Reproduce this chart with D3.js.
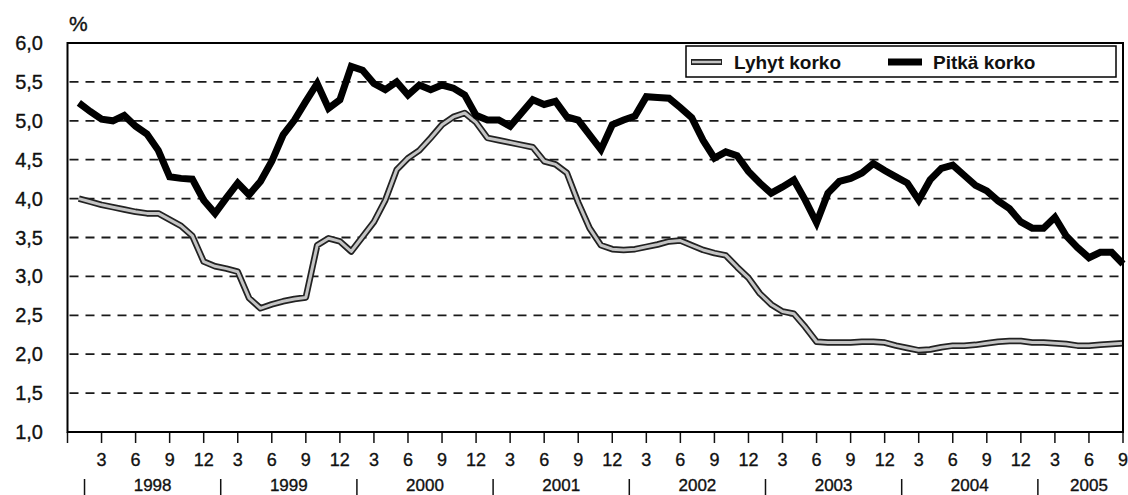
<!DOCTYPE html>
<html>
<head>
<meta charset="utf-8">
<script src="https://cdnjs.cloudflare.com/ajax/libs/d3/7.8.5/d3.min.js"></script>
<style>
  body { margin: 0; background: #fff; }
  svg { display: block; font-family: "Liberation Sans", Arial, sans-serif; }
  .lbl { fill: #111; stroke: #111; stroke-width: 0.35; }
</style>
</head>
<body>
<svg width="1128" height="495"></svg>
<script>
// monthly values Jan 1998 - Sep 2005
var years = ["1998", "1999", "2000", "2001", "2002", "2003", "2004", "2005"];
var monthTicks = ["3", "6", "9", "12"];
var yTicks = [1.0, 1.5, 2.0, 2.5, 3.0, 3.5, 4.0, 4.5, 5.0, 5.5, 6.0];

var lyhyt = [
  4.00, 3.96, 3.92, 3.89, 3.86, 3.83, 3.81, 3.81, 3.73, 3.65, 3.52, 3.19,
  3.13, 3.10, 3.06, 2.72, 2.59, 2.64, 2.68, 2.71, 2.73, 3.40, 3.49, 3.45,
  3.32, 3.51, 3.70, 3.98, 4.37, 4.52, 4.62, 4.78, 4.95, 5.05, 5.10, 4.98,
  4.78, 4.75, 4.72, 4.69, 4.66, 4.48, 4.44, 4.33, 3.95, 3.62, 3.40, 3.35,
  3.34, 3.35, 3.38, 3.41, 3.45, 3.46, 3.40, 3.34, 3.30, 3.27, 3.12, 2.98,
  2.78, 2.64, 2.55, 2.52, 2.35, 2.16, 2.15, 2.15, 2.15, 2.16, 2.16, 2.15,
  2.11, 2.08, 2.05, 2.06, 2.09, 2.11, 2.11, 2.12, 2.14, 2.16, 2.17, 2.17,
  2.15, 2.15, 2.14, 2.13, 2.11, 2.11, 2.12, 2.13, 2.14
];

var pitka = [
  5.23, 5.12, 5.02, 5.00, 5.07, 4.93, 4.83, 4.62, 4.28, 4.26, 4.25, 3.98,
  3.81, 4.01, 4.20, 4.05, 4.22, 4.48, 4.82, 5.01, 5.25, 5.48, 5.16, 5.27,
  5.70, 5.65, 5.48, 5.40, 5.50, 5.33, 5.46, 5.40, 5.46, 5.42, 5.33, 5.07,
  5.01, 5.01, 4.93, 5.10, 5.27, 5.21, 5.25, 5.05, 5.01, 4.82, 4.63, 4.95,
  5.01, 5.06, 5.31, 5.30, 5.29, 5.17, 5.04, 4.75, 4.52, 4.60, 4.55, 4.35,
  4.20, 4.07, 4.15, 4.24, 3.98, 3.69, 4.07, 4.22, 4.26, 4.33, 4.45, 4.36,
  4.28, 4.20, 3.98, 4.24, 4.39, 4.43, 4.30, 4.17, 4.10, 3.97, 3.87, 3.70,
  3.62, 3.62, 3.76, 3.52, 3.37, 3.24, 3.31, 3.31, 3.16
];

var svg = d3.select("svg");
var n = pitka.length;
var plotLeft = 67.5, plotRight = 1123, plotTop = 43, plotBottom = 432;

var x = d3.scaleLinear().domain([0, n]).range([plotLeft, plotRight]);
var y = d3.scaleLinear().domain([1, 6]).range([plotBottom, plotTop]);

// dashed grid
svg.append("g").selectAll("line")
    .data(yTicks.filter(function(d) { return d > 1 && d < 6; }))
  .enter().append("line")
    .attr("x1", plotLeft + 2).attr("x2", plotRight - 2)
    .attr("y1", function(d) { return y(d); })
    .attr("y2", function(d) { return y(d); })
    .attr("stroke", "#1a1a1a")
    .attr("stroke-width", 1.8)
    .attr("stroke-dasharray", "9,7");

// y labels
svg.append("g").selectAll("text")
    .data(yTicks)
  .enter().append("text")
    .attr("class", "lbl")
    .attr("x", 43)
    .attr("y", function(d) { return y(d) + 7; })
    .attr("text-anchor", "end")
    .attr("font-size", 20)
    .text(function(d) { return d.toFixed(1).replace(".", ","); });

svg.append("text")
    .attr("class", "lbl")
    .attr("x", 69).attr("y", 31)
    .attr("font-size", 21)
    .text("%");

// month ticks
var tickIdx = d3.range(0, n + 1, 3);
svg.append("g").selectAll("line")
    .data(tickIdx)
  .enter().append("line")
    .attr("x1", function(d) { return x(d); })
    .attr("x2", function(d) { return x(d); })
    .attr("y1", plotBottom).attr("y2", plotBottom + 11)
    .attr("stroke", "#111").attr("stroke-width", 1.5);

svg.append("g").selectAll("text")
    .data(tickIdx.slice(1))
  .enter().append("text")
    .attr("class", "lbl")
    .attr("x", function(d) { return x(d); })
    .attr("y", 466)
    .attr("text-anchor", "middle")
    .attr("font-size", 18)
    .text(function(d) { return monthTicks[((d / 3) - 1) % 4]; });

// year separators and labels
svg.append("g").selectAll("line")
    .data(years)
  .enter().append("line")
    .attr("x1", function(d, i) { return x(i * 12 + 1.5); })
    .attr("x2", function(d, i) { return x(i * 12 + 1.5); })
    .attr("y1", 479).attr("y2", 495)
    .attr("stroke", "#111").attr("stroke-width", 1.5);

svg.append("g").selectAll("text")
    .data(years)
  .enter().append("text")
    .attr("class", "lbl")
    .attr("x", function(d, i) {
      var a = i * 12 + 1.5, b = Math.min(a + 12, n + 1.5);
      return x((a + b) / 2);
    })
    .attr("y", 491)
    .attr("text-anchor", "middle")
    .attr("font-size", 17)
    .text(function(d) { return d; });

var line = d3.line()
    .x(function(d, i) { return x(i + 1); })
    .y(function(d) { return y(d); });

// short rate: grey line with dark edge
svg.append("path").datum(lyhyt)
    .attr("d", line).attr("fill", "none")
    .attr("stroke", "#222").attr("stroke-width", 6.5)
    .attr("stroke-linejoin", "round");
svg.append("path").datum(lyhyt)
    .attr("d", line).attr("fill", "none")
    .attr("stroke", "#c4c4c4").attr("stroke-width", 3)
    .attr("stroke-linejoin", "round");

svg.append("path").datum(pitka)
    .attr("d", line).attr("fill", "none")
    .attr("stroke", "#000").attr("stroke-width", 7)
    .attr("stroke-linejoin", "miter");

// frame
svg.append("rect")
    .attr("x", plotLeft).attr("y", plotTop)
    .attr("width", plotRight - plotLeft).attr("height", plotBottom - plotTop)
    .attr("fill", "none").attr("stroke", "#000").attr("stroke-width", 2);

// legend
var lg = svg.append("g");
lg.append("rect")
    .attr("x", 686).attr("y", 46).attr("width", 430).attr("height", 31)
    .attr("fill", "#fff").attr("stroke", "#000").attr("stroke-width", 1.5);
lg.append("line").attr("x1", 691).attr("x2", 722).attr("y1", 62).attr("y2", 62)
    .attr("stroke", "#222").attr("stroke-width", 6);
lg.append("line").attr("x1", 692).attr("x2", 721).attr("y1", 62).attr("y2", 62)
    .attr("stroke", "#c4c4c4").attr("stroke-width", 2.5);
lg.append("text").attr("x", 734).attr("y", 69)
    .attr("font-size", 19).attr("font-weight", "bold").attr("fill", "#111")
    .text("Lyhyt korko");
lg.append("line").attr("x1", 888).attr("x2", 922).attr("y1", 62).attr("y2", 62)
    .attr("stroke", "#000").attr("stroke-width", 7);
lg.append("text").attr("x", 933).attr("y", 69)
    .attr("font-size", 19).attr("font-weight", "bold").attr("fill", "#111")
    .text("Pitkä korko");
</script>
</body>
</html>
